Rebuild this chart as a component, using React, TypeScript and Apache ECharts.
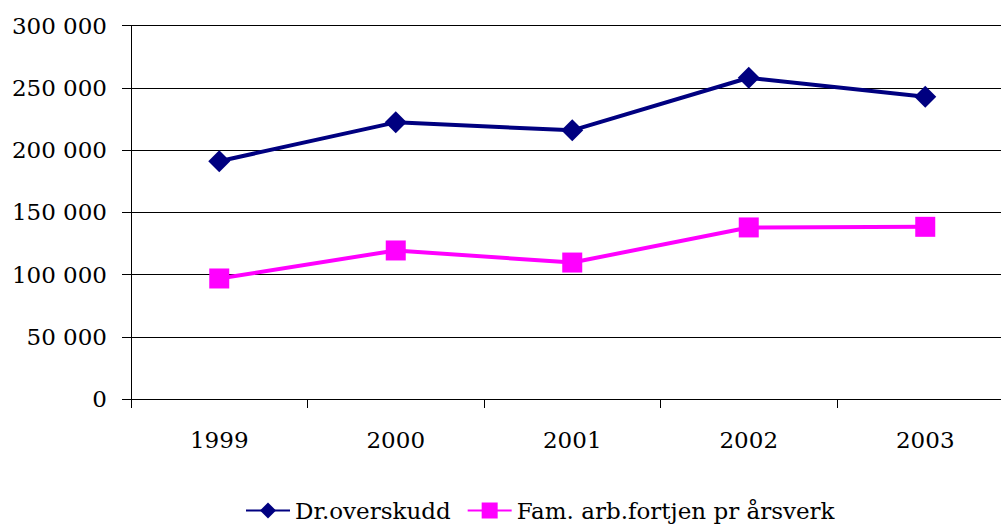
import React, { useEffect, useRef } from "react";
import * as echarts from "echarts";

const categories = ["1999", "2000", "2001", "2002", "2003"];
const drOverskudd = [191000, 222200, 215800, 258000, 242800];
const famArb = [96800, 119300, 109600, 137800, 138300];
const seriesNames = ["Dr.overskudd", "Fam. arb.fortjen pr årsverk"];

const FONT = "DejaVu Serif";

function fmt(v: number): string {
  if (v === 0) return "0";
  const s = String(Math.round(v));
  return s.replace(/\B(?=(\d{3})+(?!\d))/g, " ");
}

export default function App() {
  const ref = useRef<HTMLDivElement>(null);
  useEffect(() => {
    if (!ref.current) return;
    const chart = echarts.init(ref.current, undefined, { renderer: "svg" });
    chart.setOption({
      animation: false,
      backgroundColor: "#ffffff",
      textStyle: { fontFamily: FONT },
      grid: { left: 131, top: 25.5, height: 373.5, width: 882.5, containLabel: false, outerBoundsMode: "none" },
      legend: {
        left: 240,
        top: 494,
        itemWidth: 44,
        itemHeight: 20,
        itemGap: 16,
        textStyle: { fontFamily: FONT, fontSize: 23, color: "#000" },
        data: seriesNames,
      },
      xAxis: {
        type: "category",
        data: categories,
        boundaryGap: true,
        axisLine: { lineStyle: { color: "#000", width: 1 } },
        axisTick: { show: true, length: 9, inside: false, lineStyle: { color: "#000" } },
        axisLabel: { fontFamily: FONT, fontSize: 23, color: "#000", margin: 29 },
        splitLine: { show: false },
      },
      yAxis: {
        type: "value",
        min: 0,
        max: 300000,
        interval: 50000,
        axisLine: { show: true, lineStyle: { color: "#000", width: 1 } },
        axisTick: { show: true, length: 9, lineStyle: { color: "#000" } },
        axisLabel: {
          fontFamily: FONT,
          fontSize: 23,
          color: "#000",
          margin: 24,
          formatter: (v: number) => fmt(v),
        },
        splitLine: { show: true, lineStyle: { color: "#000", width: 1 } },
      },
      series: [
        {
          name: seriesNames[0],
          type: "line",
          data: drOverskudd,
          symbol: "diamond",
          symbolSize: 22,
          lineStyle: { color: "#000080", width: 4 },
          itemStyle: { color: "#000080" },
        },
        {
          name: seriesNames[1],
          type: "line",
          data: famArb,
          symbol: "rect",
          symbolSize: 20,
          lineStyle: { color: "#FF00FF", width: 4 },
          itemStyle: { color: "#FF00FF" },
        },
      ],
    });
    return () => chart.dispose();
  }, []);
  return <div ref={ref} style={{ width: 1001, height: 527, position: "absolute", left: 0, top: 0 }} />;
}
